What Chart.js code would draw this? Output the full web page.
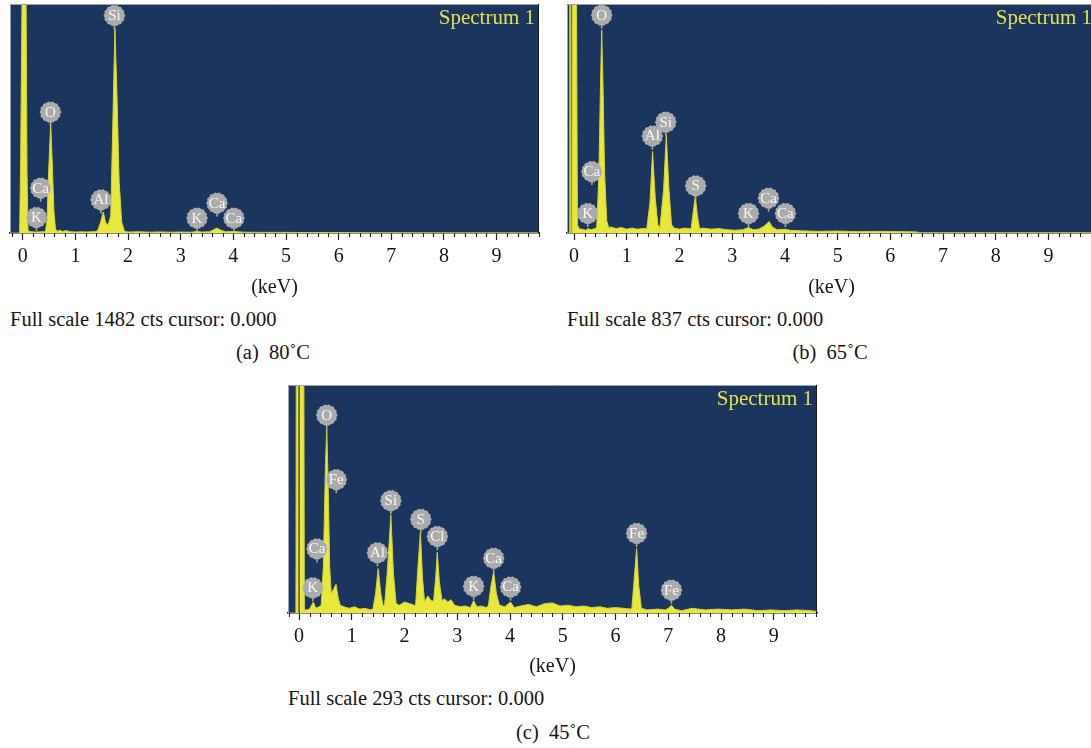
<!DOCTYPE html>
<html>
<head>
<meta charset="utf-8">
<script src="https://cdn.jsdelivr.net/npm/chart.js@4.4.1/dist/chart.umd.min.js"></script>
<style>
html,body{margin:0;padding:0;background:#fff;width:1091px;height:748px;overflow:hidden;position:relative;font-family:"Liberation Serif","Times New Roman",serif;}
canvas{position:absolute;}
.txt{position:absolute;font-size:20.5px;line-height:24px;color:#151515;white-space:pre;}
.ctr{transform:translateX(-50%);}
</style>
</head>
<body>
<canvas id="chartA" width="550" height="300" style="left:0;top:0"></canvas>
<canvas id="chartB" width="549" height="300" style="left:557px;top:0"></canvas>
<canvas id="chartC" width="550" height="300" style="left:278px;top:380px"></canvas>

<div class="txt" style="left:10px;top:307px">Full scale 1482 cts cursor: 0.000</div>
<div class="txt ctr" style="left:273px;top:340px">(a)  80˚C</div>
<div class="txt" style="left:567px;top:307px">Full scale 837 cts cursor: 0.000</div>
<div class="txt ctr" style="left:830px;top:340px">(b)  65˚C</div>
<div class="txt" style="left:288px;top:686px">Full scale 293 cts cursor: 0.000</div>
<div class="txt ctr" style="left:553px;top:720px">(c)  45˚C</div>

<script>
// ---------- data ----------
const tickLabels = ['0','1','2','3','4','5','6','7','8','9'];

// (a) 80 °C, full scale 1482 cts
const fullScaleA = 1482;
const energyA = [-0.25,-0.06,-0.04,-0.01,0.06,0.08,0.10,0.15,0.25,0.35,
  0.43,0.46,0.49,0.53,0.56,0.59,0.62,0.65,0.70,0.76,
  0.82,0.90,1.00,1.10,1.20,1.30,1.38,1.42,1.47,1.53,
  1.57,1.62,1.67,1.71,1.75,1.79,1.83,1.88,1.93,2.00,
  2.20,2.40,2.60,2.80,3.00,3.20,3.31,3.40,3.55,3.63,
  3.69,3.75,3.85,4.01,4.20,4.60,5.00,5.50,6.00,6.50,
  7.00,8.00,9.00,9.81];
const countsA = [0,0,500,1700,1700,400,15,8,6,8,
  8,80,390,712,450,150,30,10,18,10,
  16,8,6,8,6,8,10,15,60,136,
  70,50,110,700,1326,880,330,70,12,6,
  8,5,7,5,6,5,10,6,8,22,
  32,20,8,10,5,4,4,3,3,2,
  2,1,1,1];
const peakElemA = ['K','Ca','O','Al','Si','K','Ca','Ca'];
const peakKeVA  = [0.26,0.34,0.525,1.486,1.74,3.31,3.69,4.01];
const peakTipA  = [13,203,695,127,1320,9,106,9];

// (b) 65 °C, full scale 837 cts
const fullScaleB = 837;
const energyB = [-0.14,-0.085,-0.08,-0.07,-0.065,-0.04,-0.03,0.04,0.065,0.10,
  0.15,0.22,0.27,0.32,0.38,0.43,0.47,0.50,0.525,0.55,
  0.58,0.62,0.66,0.70,0.80,0.90,1.00,1.10,1.20,1.30,
  1.38,1.44,1.49,1.54,1.59,1.63,1.70,1.75,1.80,1.85,
  1.90,2.00,2.10,2.22,2.26,2.30,2.34,2.38,2.45,2.60,
  2.75,2.90,3.05,3.20,3.31,3.40,3.50,3.60,3.70,3.76,
  3.85,4.00,4.10,4.30,4.60,5.00,5.40,5.80,6.20,6.50,
  6.55,7.50,8.50,9.90];
const countsB = [0,0,1200,1200,0,0,1200,1200,30,15,
  14,10,16,12,15,20,200,520,742,540,
  220,45,18,22,16,20,14,18,14,16,
  16,110,298,130,30,20,160,359,160,30,
  18,14,18,15,75,134,65,16,18,14,
  16,12,10,12,20,12,14,24,42,22,
  12,14,10,8,6,7,5,6,5,4,
  1,1,1,1];
const peakElemB = ['K','Ca','O','Al','Si','S','K','Ca','Ca'];
const peakKeVB  = [0.26,0.34,0.525,1.486,1.74,2.307,3.31,3.69,4.01];
const peakTipB  = [22,175,747,305,356,123,22,78,22];

// (c) 45 °C, full scale 293 cts
const fullScaleC = 293;
const cursorC = 0.000;
const energyC = [-0.21,-0.06,-0.05,0.085,0.10,0.15,0.20,0.27,0.32,0.38,
  0.42,0.46,0.50,0.525,0.55,0.58,0.61,0.65,0.70,0.74,
  0.78,0.85,0.95,1.05,1.15,1.25,1.35,1.40,1.45,1.50,
  1.55,1.59,1.62,1.67,1.74,1.79,1.84,1.90,2.00,2.10,
  2.18,2.21,2.25,2.30,2.34,2.38,2.44,2.50,2.55,2.59,
  2.62,2.66,2.71,2.76,2.82,2.88,2.95,3.05,3.15,3.25,
  3.31,3.37,3.45,3.55,3.59,3.64,3.69,3.74,3.80,3.90,
  4.01,4.08,4.20,4.35,4.50,4.65,4.80,4.95,5.10,5.25,
  5.40,5.55,5.70,5.85,6.00,6.15,6.28,6.31,6.35,6.40,
  6.44,6.49,6.60,6.80,6.95,7.00,7.06,7.12,7.25,7.45,
  7.70,7.95,8.20,8.45,8.70,8.95,9.20,9.45,9.70,9.83];
const countsC = [0,0,500,500,4,4,5,14,6,8,
  10,60,190,237,170,60,25,30,37,20,
  10,8,6,8,5,6,4,5,25,57,
  25,10,10,50,126,50,12,10,14,12,
  10,10,55,104,45,14,22,16,15,45,
  78,40,16,18,14,17,10,8,9,7,
  16,8,9,7,10,35,53,25,10,8,
  14,7,9,11,8,12,13,9,10,8,
  9,7,8,6,7,6,5,6,40,83,
  35,6,4,5,4,6,10,5,3,6,
  4,5,4,5,3,4,3,4,3,2];
const peakElemC = ['K','Ca','O','Fe','Al','Si','S','Cl','K','Ca','Ca','Fe','Fe'];
const peakKeVC  = [0.26,0.34,0.525,0.705,1.486,1.74,2.307,2.622,3.31,3.69,4.01,6.40,7.06];
const peakTipC  = [15,65,237,154,60,127,103,81,17,53,16,85,12];

// ---------- style ----------
const FONT = '"Liberation Serif","Times New Roman",serif';
const NAVY = '#1b355f';
const YELLOW = '#e8e83a';
const YEDGE = '#d2d23a';

function makePanel(id, cfg) {
  const points = cfg.energy.map((e, i) => ({x: e, y: cfg.counts[i]}));
  const plugin = {
    id: 'eds_' + id,
    beforeDraw(chart) {
      const {ctx, chartArea: a} = chart;
      ctx.save();
      ctx.fillStyle = NAVY;
      ctx.fillRect(a.left, a.top, a.right - a.left, a.bottom - a.top);
      ctx.restore();
    },
    afterDatasetsDraw(chart) {
      const {ctx, chartArea: a, scales: {x: xs, y: ys}} = chart;
      ctx.save();
      if (cfg.cursor !== undefined) {
        const cx = xs.getPixelForValue(cfg.cursor);
        ctx.strokeStyle = '#5e5b2a';
        ctx.lineWidth = 1.6;
        ctx.beginPath(); ctx.moveTo(cx, a.top); ctx.lineTo(cx, a.bottom); ctx.stroke();
      }
      ctx.strokeStyle = '#9aa3b5'; ctx.lineWidth = 1;
      ctx.beginPath(); ctx.moveTo(a.left + 0.5, a.bottom); ctx.lineTo(a.left + 0.5, a.top + 0.5); ctx.lineTo(a.right, a.top + 0.5); ctx.stroke();
      ctx.strokeStyle = '#1a1a1a';
      ctx.beginPath(); ctx.moveTo(a.right - 0.5, a.top); ctx.lineTo(a.right - 0.5, a.bottom); ctx.stroke();
      const R = 10;
      cfg.elem.forEach((el, i) => {
        const px = xs.getPixelForValue(cfg.keV[i]);
        const tip = ys.getPixelForValue(cfg.tip[i]);
        const cy = tip - 13.5;
        ctx.strokeStyle = '#a8a8a8'; ctx.lineWidth = 1.6;
        ctx.beginPath(); ctx.moveTo(px, cy + R - 1); ctx.lineTo(px, tip); ctx.stroke();
        ctx.beginPath();
        const n = 72;
        for (let k = 0; k <= n; k++) {
          const t = k / n * Math.PI * 2;
          const rr = R + 0.45 * Math.cos(14 * t);
          const qx = px + rr * Math.cos(t), qy = cy + rr * Math.sin(t);
          if (k === 0) ctx.moveTo(qx, qy); else ctx.lineTo(qx, qy);
        }
        ctx.closePath();
        ctx.fillStyle = '#ababab'; ctx.fill();
        ctx.strokeStyle = 'rgba(200,200,200,0.7)'; ctx.lineWidth = 0.8; ctx.stroke();
        ctx.fillStyle = '#f8f8f8';
        ctx.font = '15px ' + FONT;
        ctx.textAlign = 'center'; ctx.textBaseline = 'middle';
        ctx.fillText(el, px, cy + 0.5);
      });
      ctx.fillStyle = '#e3e34a';
      ctx.font = '21px ' + FONT;
      ctx.textAlign = 'right'; ctx.textBaseline = 'alphabetic';
      ctx.fillText('Spectrum 1', a.right - 4, a.top + 20);
      ctx.restore();
    },
    afterDraw(chart) {
      const {ctx, chartArea: a, scales: {x: xs}} = chart;
      ctx.save();
      ctx.strokeStyle = '#222'; ctx.lineWidth = 1.1;
      const start = Math.ceil(xs.min / 0.2), end = Math.floor(xs.max / 0.2);
      for (let k = start; k <= end; k++) {
        if (k % 5 === 0) continue;
        const px = Math.round(xs.getPixelForValue(k * 0.2)) + 0.5;
        ctx.beginPath(); ctx.moveTo(px, a.bottom); ctx.lineTo(px, a.bottom + 4); ctx.stroke();
      }
      ctx.restore();
    }
  };
  return new Chart(document.getElementById(id), {
    type: 'line',
    data: {datasets: [{
      data: points,
      fill: 'origin',
      backgroundColor: YELLOW,
      borderColor: YEDGE,
      borderWidth: 1,
      pointRadius: 0,
      tension: 0,
      clip: 0
    }]},
    options: {
      responsive: false,
      animation: false,
      events: [],
      layout: {padding: {left: cfg.padL, right: cfg.padR, top: cfg.padT, bottom: 0}},
      plugins: {legend: {display: false}, tooltip: {enabled: false}},
      scales: {
        x: {
          type: 'linear',
          min: cfg.min, max: cfg.max,
          afterFit(s) { s.height = cfg.axisH; },
          border: {display: true, color: '#141414', width: 1.5},
          grid: {drawOnChartArea: false, drawTicks: true, tickLength: 7, tickColor: '#222', tickWidth: 1.2},
          ticks: {
            stepSize: 1, includeBounds: false, autoSkip: false, maxRotation: 0,
            color: '#151515', font: {family: FONT, size: 20}, padding: 5,
            callback: (v) => tickLabels[v] !== undefined ? tickLabels[v] : ''
          },
          title: {display: true, text: '(keV)', color: '#151515', font: {family: FONT, size: 20}, padding: {top: 0, bottom: cfg.titlePad}}
        },
        y: {display: false, min: 0, max: cfg.fullScale}
      }
    },
    plugins: [plugin]
  });
}

makePanel('chartA', {energy: energyA, counts: countsA, elem: peakElemA, keV: peakKeVA, tip: peakTipA,
  fullScale: fullScaleA, min: -0.243, max: 9.806, padL: 10, padR: 11, padT: 4, axisH: 67, titlePad: 0});
makePanel('chartB', {energy: energyB, counts: countsB, elem: peakElemB, keV: peakKeVB, tip: peakTipB,
  fullScale: fullScaleB, min: -0.133, max: 9.90, padL: 10, padR: 10, padT: 4, axisH: 67, titlePad: 0});
makePanel('chartC', {energy: energyC, counts: countsC, elem: peakElemC, keV: peakKeVC, tip: peakTipC, cursor: cursorC,
  fullScale: fullScaleC, min: -0.21, max: 9.82, padL: 10, padR: 11, padT: 5, axisH: 67, titlePad: 1});
</script>
</body>
</html>
